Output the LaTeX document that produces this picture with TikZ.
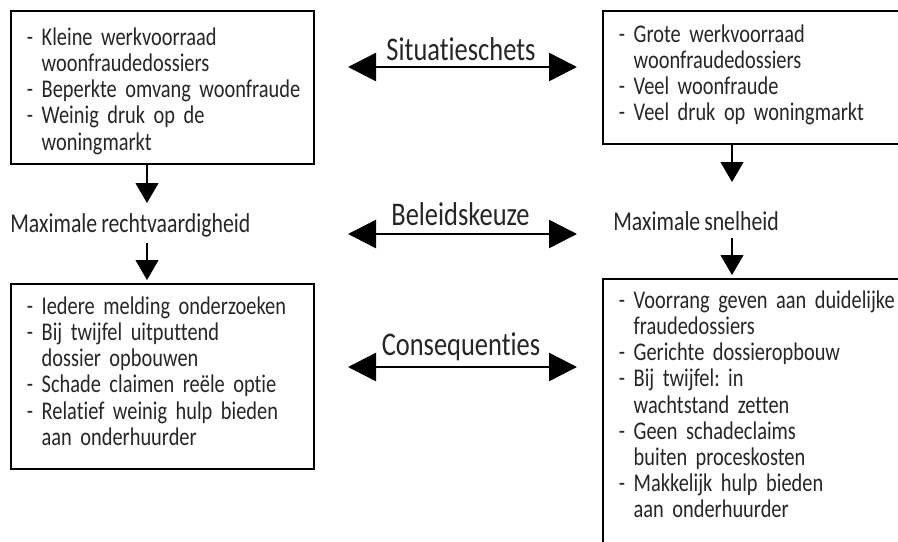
\documentclass[tikz,border=0pt]{standalone}
\usepackage{fontspec}
\setmainfont{Carlito}[FakeStretch=0.8, WordSpace=0.8, Ligatures=NoCommon]
\usetikzlibrary{arrows.meta}
\frenchspacing

\newcommand{\boxlines}[1]{\begin{tabular}[t]{@{}l@{}}#1\end{tabular}}
\newcommand{\contd}{\phantom{- }}

\begin{document}
\begin{tikzpicture}[
    box/.style={draw, line width=1.1pt, anchor=north west, inner xsep=0.32cm, inner ysep=0pt, font=\fontsize{14.5}{14.8}\selectfont, text=black!85},
    lbl/.style={anchor=base west, inner sep=0pt, font=\fontsize{15.5}{16}\selectfont, text=black!85},
    mid/.style={anchor=base, inner sep=0pt, font=\fontsize{18.8}{20}\selectfont, text=black!85},
    down/.style={-{Triangle[length=0.4cm, width=0.46cm]}, line width=0.6pt},
    dbl/.style={{Triangle[length=0.56cm, width=0.56cm]}-{Triangle[length=0.56cm, width=0.56cm]}, line width=1.4pt}
]
\useasboundingbox (0,0) rectangle (17.96,-10.82);
\clip (0,0) rectangle (17.96,-10.82);

% --- situatie ---
\node[box, text width=5.42cm, text height=0.7cm, text depth=2.36cm] (sit1) at (0.2,-0.2)
    {\boxlines{- Kleine werkvoorraad\\ \contd woonfraudedossiers\\ - Beperkte omvang woonfraude\\ - Weinig druk op de\\ \contd woningmarkt}};
\node[box, text width=6.36cm, text height=0.64cm, text depth=2.02cm] (sit2) at (12.04,-0.2)
    {\boxlines{- Grote werkvoorraad\\ \contd woonfraudedossiers\\ - Veel woonfraude\\ - Veel druk op woningmarkt}};

% --- beleidskeuze ---
\node[lbl] (kz1) at (0.2,-4.64) {Maximale rechtvaardigheid};
\node[lbl] (kz2) at (12.26,-4.6) {Maximale snelheid};

% --- consequenties ---
\node[box, text width=5.42cm, text height=0.62cm, text depth=3.08cm] (con1) at (0.2,-5.66)
    {\boxlines{- Iedere melding onderzoeken\\ - Bij twijfel uitputtend\\ \contd dossier opbouwen\\ - Schade claimen reële optie\\ - Relatief weinig hulp bieden\\ \contd aan onderhuurder}};
\node[box, text width=6.36cm, text height=0.6cm, text depth=6cm] (con2) at (12.04,-5.56)
    {\boxlines{- Voorrang geven aan duidelijke\\ \contd fraudedossiers\\ - Gerichte dossieropbouw\\ - Bij twijfel: in\\ \contd wachtstand zetten\\ - Geen schadeclaims\\ \contd buiten proceskosten\\ - Makkelijk hulp bieden\\ \contd aan onderhuurder}};

% pijlen omlaag
\coordinate (d1) at (2.94,-4.06);
\coordinate (d2) at (2.94,-4.86);
\coordinate (d3) at (14.64,-3.64);
\coordinate (d4) at (14.64,-4.76);
\draw[down] (sit1.south -| d1) -- (d1);
\draw[down, shorten >=0.06cm] (d2) -- (con1.north -| d2);
\draw[down] (sit2.south -| d3) -- (d3);
\draw[down, shorten >=0.06cm] (d4) -- (con2.north -| d4);

% middenlabels met dubbele pijlen
\node[mid] (m1) at (9.22,-1.2) {Situatieschets};
\node[mid] (m2) at (9.21,-4.5) {Beleidskeuze};
\node[mid] (m3) at (9.22,-7.1) {Consequenties};
\coordinate (a1l) at (6.96,-1.34);  \coordinate (a1r) at (11.54,-1.34);
\coordinate (a2l) at (6.96,-4.68);  \coordinate (a2r) at (11.54,-4.68);
\coordinate (a3l) at (6.96,-7.34);  \coordinate (a3r) at (11.54,-7.34);
\draw[dbl] (a1l) -- (a1r);
\draw[dbl] (a2l) -- (a2r);
\draw[dbl] (a3l) -- (a3r);
\end{tikzpicture}
\end{document}
